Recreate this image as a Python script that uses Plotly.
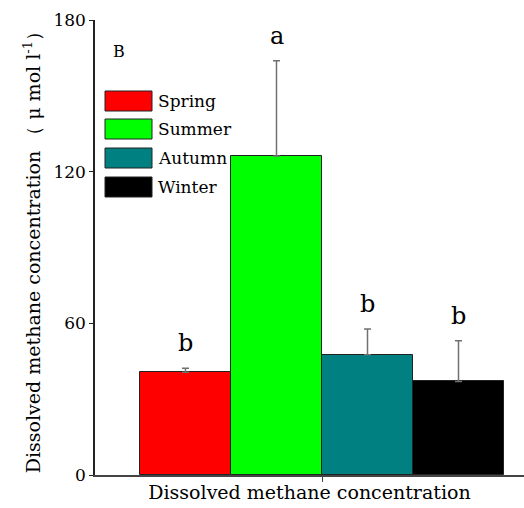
import plotly.graph_objects as go

seasons = ["Spring", "Summer", "Autumn", "Winter"]
values = [40.6, 126.2, 47.6, 37.0]
errors = [1.6, 37.7, 10.2, 16.1]
letters = ["b", "a", "b", "b"]
colors = ["#FF0000", "#00FF00", "#008080", "#000000"]
y_ticks = [0, 60, 120, 180]

W, H = 524, 508
L, R, T, B = 95, 0, 20, 33
FONT = "DejaVu Serif"

def px(x):
    return (x - L) / (W - L - R)

def py(y):
    return (H - B - y) / (H - T - B)

fig = go.Figure()
xs = list(range(len(seasons)))
fig.add_trace(go.Bar(
    x=xs, y=values, width=1.0,
    marker=dict(color=colors, line=dict(color="#222222", width=1)),
    error_y=dict(type="data", array=errors, arrayminus=[0]*len(errors), symmetric=False,
                 color="#707070", thickness=1.5, width=3.5),
    showlegend=False,
))

annotations = []
for i, (v, e, t) in enumerate(zip(values, errors, letters)):
    annotations.append(dict(x=i, y=v + e, xref="x", yref="y", text=t, showarrow=False,
                            yanchor="bottom", yshift=9,
                            font=dict(family=FONT, size=24, color="black")))

shapes = []
leg_y = [101, 129, 158, 187]
for s, c, yc in zip(seasons, colors, leg_y):
    shapes.append(dict(type="rect", xref="paper", yref="paper",
                       x0=px(105), x1=px(152), y0=py(yc - 10), y1=py(yc + 10),
                       fillcolor=c, line=dict(color="#222222", width=1)))
    annotations.append(dict(x=px(156), y=py(yc), xref="paper", yref="paper", text=s,
                            showarrow=False, xanchor="left", yanchor="middle",
                            font=dict(family=FONT, size=17, color="black")))

annotations.append(dict(x=px(111), y=py(52), xref="paper", yref="paper", text="B",
                        showarrow=False, xanchor="left", yanchor="middle",
                        font=dict(family=FONT, size=16, color="black")))

fig.update_layout(
    width=W, height=H,
    margin=dict(l=L, r=R, t=T, b=B),
    plot_bgcolor="white", paper_bgcolor="white",
    font=dict(family=FONT, size=17, color="black"),
    bargap=0,
    shapes=shapes,
    annotations=annotations,
    xaxis=dict(
        range=[-0.5 - 45 / 91, 3.5 + 20 / 91],
        tickvals=[1.5], ticktext=[""],
        ticks="outside", ticklen=5, tickwidth=1, tickcolor="#444444",
        showline=True, linecolor="#444444", linewidth=1.5,
        showgrid=False, zeroline=False,
        title=dict(text="Dissolved methane concentration", standoff=2,
                   font=dict(family=FONT, size=19)),
    ),
    yaxis=dict(
        range=[0, 180],
        tickvals=y_ticks,
        ticks="outside", ticklen=4, tickwidth=1, tickcolor="#222222",
        showline=True, linecolor="#222222", linewidth=1.5,
        showgrid=False, zeroline=False,
        tickfont=dict(family=FONT, size=17),
        title=dict(text="Dissolved methane concentration （ μ mol l<sup>-1</sup>）",
                   standoff=8, font=dict(family=FONT, size=19)),
    ),
)

fig.write_html("out.html")
